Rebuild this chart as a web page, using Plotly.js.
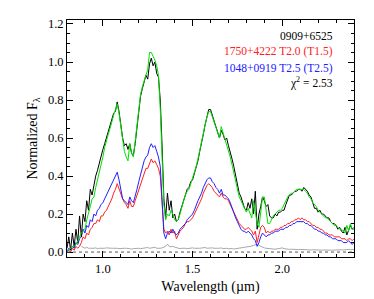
<!DOCTYPE html>
<html><head><meta charset="utf-8">
<script src="https://cdn.plot.ly/plotly-3.0.1.min.js"></script>
<style>html,body{margin:0;padding:0;background:#fff;}#chart{width:374px;height:299px;}</style>
</head><body><div id="chart"></div>
<script>
var wavelength = [0.80,0.81,0.82,0.83,0.84,0.85,0.86,0.87,0.88,0.89,0.90,0.91,0.92,0.93,0.94,0.95,0.96,0.97,0.98,0.99,
1.00,1.01,1.02,1.03,1.04,1.05,1.06,1.07,1.08,1.09,1.10,1.11,1.12,1.13,1.14,1.15,1.16,1.17,1.18,1.19,
1.20,1.21,1.22,1.23,1.24,1.25,1.26,1.27,1.28,1.29,1.30,1.31,1.32,1.33,1.34,1.35,1.36,1.37,1.38,1.39,
1.40,1.41,1.42,1.43,1.44,1.45,1.46,1.47,1.48,1.49,1.50,1.51,1.52,1.53,1.54,1.55,1.56,1.57,1.58,1.59,
1.60,1.61,1.62,1.63,1.64,1.65,1.66,1.67,1.68,1.69,1.70,1.71,1.72,1.73,1.74,1.75,1.76,1.77,1.78,1.79,
1.80,1.81,1.82,1.83,1.84,1.85,1.86,1.87,1.88,1.89,1.90,1.91,1.92,1.93,1.94,1.95,1.96,1.97,1.98,1.99,
2.00,2.01,2.02,2.03,2.04,2.05,2.06,2.07,2.08,2.09,2.10,2.11,2.12,2.13,2.14,2.15,2.16,2.17,2.18,2.19,
2.20,2.21,2.22,2.23,2.24,2.25,2.26,2.27,2.28,2.29,2.30,2.31,2.32,2.33,2.34,2.35,2.36,2.37,2.38,2.39,2.40];

var target0909 = [0.02,0.08,0.01,0.10,0.03,0.12,0.05,0.19,0.08,0.20,0.16,0.27,0.22,0.33,0.30,0.36,0.40,0.43,0.47,0.50,
0.54,0.57,0.60,0.64,0.67,0.70,0.73,0.74,0.79,0.74,0.67,0.60,0.56,0.57,0.54,0.57,0.52,0.51,0.57,0.66,
0.76,0.82,0.86,0.90,0.93,0.91,0.99,1.02,0.98,1.00,0.94,0.92,0.80,0.56,0.28,0.18,0.31,0.22,0.27,0.18,
0.20,0.16,0.17,0.21,0.24,0.28,0.31,0.33,0.34,0.37,0.38,0.41,0.44,0.48,0.53,0.57,0.62,0.67,0.72,0.75,
0.75,0.72,0.70,0.66,0.63,0.60,0.64,0.62,0.59,0.60,0.56,0.53,0.49,0.45,0.40,0.35,0.31,0.29,0.26,0.23,
0.22,0.26,0.23,0.28,0.20,0.32,0.12,0.20,0.24,0.29,0.27,0.24,0.25,0.19,0.18,0.18,0.20,0.19,0.21,0.21,
0.22,0.22,0.25,0.28,0.30,0.30,0.31,0.32,0.32,0.33,0.33,0.32,0.34,0.33,0.32,0.30,0.29,0.26,0.23,0.23,
0.21,0.22,0.20,0.20,0.19,0.18,0.18,0.16,0.15,0.15,0.14,0.12,0.13,0.11,0.10,0.13,0.09,0.12,0.14,0.12,0.13];

var fitComposite = [0.00,0.01,0.02,0.03,0.03,0.04,0.06,0.08,0.10,0.11,0.12,0.17,0.20,0.24,0.28,0.29,0.34,0.38,0.41,0.45,
0.50,0.55,0.59,0.62,0.65,0.69,0.72,0.75,0.78,0.73,0.66,0.58,0.53,0.50,0.48,0.57,0.52,0.50,0.58,0.68,
0.77,0.83,0.87,0.90,0.94,0.96,1.05,1.05,1.03,1.01,0.98,0.93,0.75,0.50,0.25,0.17,0.20,0.19,0.22,0.20,
0.17,0.16,0.17,0.20,0.24,0.27,0.30,0.32,0.33,0.36,0.38,0.41,0.45,0.49,0.54,0.58,0.62,0.67,0.71,0.74,
0.74,0.71,0.69,0.65,0.62,0.60,0.66,0.63,0.59,0.57,0.54,0.50,0.46,0.42,0.38,0.33,0.29,0.27,0.25,0.23,
0.21,0.23,0.20,0.18,0.27,0.22,0.15,0.13,0.22,0.29,0.29,0.22,0.15,0.15,0.17,0.19,0.20,0.21,0.22,0.22,
0.23,0.25,0.27,0.29,0.30,0.31,0.31,0.32,0.33,0.33,0.33,0.33,0.33,0.32,0.31,0.29,0.28,0.26,0.25,0.24,
0.22,0.21,0.20,0.19,0.18,0.18,0.17,0.16,0.15,0.14,0.14,0.13,0.12,0.12,0.11,0.10,0.14,0.11,0.15,0.12,0.12];

var std1750 = [0.00,0.01,0.00,0.02,0.01,0.03,0.02,0.03,0.05,0.08,0.07,0.10,0.09,0.12,0.13,0.15,0.15,0.17,0.16,0.19,
0.19,0.21,0.22,0.24,0.26,0.28,0.31,0.33,0.36,0.33,0.30,0.28,0.26,0.25,0.23,0.27,0.24,0.24,0.27,0.30,
0.33,0.36,0.39,0.42,0.44,0.44,0.47,0.49,0.47,0.48,0.46,0.44,0.40,0.25,0.12,0.10,0.11,0.09,0.12,0.10,
0.11,0.07,0.09,0.11,0.12,0.13,0.15,0.16,0.16,0.17,0.18,0.20,0.22,0.24,0.26,0.28,0.31,0.33,0.35,0.36,
0.35,0.34,0.32,0.31,0.30,0.29,0.31,0.29,0.28,0.28,0.27,0.25,0.23,0.21,0.19,0.17,0.15,0.14,0.13,0.12,
0.12,0.13,0.12,0.11,0.09,0.11,0.05,0.09,0.13,0.14,0.13,0.10,0.11,0.10,0.11,0.11,0.12,0.12,0.12,0.13,
0.13,0.14,0.14,0.15,0.15,0.16,0.16,0.17,0.17,0.18,0.17,0.18,0.17,0.17,0.16,0.16,0.15,0.14,0.14,0.13,
0.13,0.12,0.12,0.11,0.10,0.10,0.09,0.09,0.09,0.08,0.08,0.08,0.08,0.07,0.07,0.07,0.06,0.07,0.07,0.06,0.07];

var std1048 = [0.00,0.02,0.01,0.03,0.02,0.05,0.04,0.07,0.08,0.12,0.10,0.14,0.13,0.17,0.16,0.20,0.19,0.22,0.23,0.25,
0.26,0.28,0.30,0.32,0.34,0.36,0.38,0.40,0.42,0.38,0.32,0.28,0.27,0.26,0.25,0.29,0.27,0.26,0.29,0.33,
0.37,0.41,0.45,0.48,0.50,0.51,0.55,0.57,0.55,0.56,0.53,0.50,0.45,0.25,0.10,0.07,0.10,0.11,0.10,0.12,
0.10,0.09,0.10,0.12,0.13,0.14,0.15,0.17,0.18,0.19,0.20,0.22,0.25,0.27,0.29,0.31,0.34,0.36,0.38,0.39,
0.39,0.37,0.36,0.34,0.33,0.31,0.33,0.30,0.30,0.29,0.28,0.26,0.23,0.20,0.18,0.16,0.14,0.12,0.11,0.11,
0.10,0.11,0.10,0.09,0.07,0.06,0.03,0.05,0.08,0.10,0.09,0.08,0.09,0.09,0.10,0.10,0.11,0.11,0.11,0.12,
0.12,0.12,0.13,0.13,0.14,0.14,0.15,0.15,0.16,0.16,0.16,0.16,0.16,0.15,0.15,0.14,0.14,0.13,0.12,0.12,
0.11,0.11,0.10,0.10,0.09,0.09,0.08,0.08,0.07,0.07,0.07,0.06,0.06,0.06,0.05,0.05,0.05,0.06,0.05,0.04,0.05];

var noise0909 = [null,null,null,null,null,null,null,null,0.03,0.025,0.02,0.025,0.02,0.02,0.018,0.02,0.022,0.018,0.02,0.02,
0.018,0.02,0.022,0.02,0.018,0.02,0.02,0.022,0.02,0.018,0.02,0.018,0.02,0.02,0.018,0.015,0.016,0.018,0.02,0.018,
0.02,0.018,0.02,0.022,0.02,0.024,0.02,0.022,0.02,0.025,0.02,0.018,0.02,0.022,0.025,0.03,0.042,0.03,0.028,0.03,
0.026,0.022,0.02,0.018,0.02,0.022,0.02,0.018,0.02,0.02,0.022,0.02,0.018,0.02,0.02,0.022,0.02,0.024,0.02,0.022,
0.02,0.022,0.02,0.018,0.02,0.02,0.022,0.018,0.02,0.02,0.018,0.02,0.018,0.016,0.018,0.02,0.018,0.02,0.022,0.024,
0.026,0.028,0.03,0.032,0.035,0.04,0.042,0.035,0.03,0.025,0.022,0.02,0.018,0.018,0.016,0.016,0.015,0.016,0.018,0.02,
0.022,0.018,0.016,0.015,0.014,0.015,0.014,0.013,0.014,0.013,0.014,0.013,0.012,0.013,0.012,0.012,0.011,0.012,0.011,0.011,
0.012,0.011,0.01,0.011,0.01,0.01,0.011,0.01,0.01,0.011,0.01,0.01,0.011,0.012,0.011,0.013,0.012,0.014,0.013,0.015,0.014];

var legendLabels = ["0909+6525", "1750+4222 T2.0 (T1.5)", "1048+0919 T2.5 (T2.5)", "χ<sup>2</sup> = 2.53"];
var legendColors = ["#000000", "#ff2020", "#2020ff", "#000000"];

var lw = 1;
var traces = [
  {x: wavelength, y: noise0909, type: 'scatter', mode: 'lines', line: {color: '#a8a8a8', width: lw}, hoverinfo: 'skip'},
  {x: wavelength, y: std1750, type: 'scatter', mode: 'lines', line: {color: '#ff2020', width: lw}},
  {x: wavelength, y: std1048, type: 'scatter', mode: 'lines', line: {color: '#2020ff', width: lw}},
  {x: wavelength, y: target0909, type: 'scatter', mode: 'lines', line: {color: '#000000', width: lw}},
  {x: wavelength, y: fitComposite, type: 'scatter', mode: 'lines', line: {color: '#00e000', width: lw}}
];

var ann = [];
var annY = [0.932, 0.865, 0.797, 0.736];
for (var i = 0; i < legendLabels.length; i++) {
  ann.push({xref: 'paper', yref: 'paper', x: 0.935, y: annY[i], xanchor: 'right', yanchor: 'middle',
    text: legendLabels[i], showarrow: false, font: {family: 'Liberation Serif', size: 11.5, color: legendColors[i]}});
}

var layout = {
  width: 374, height: 299,
  margin: {l: 67, r: 20, t: 20, b: 42},
  paper_bgcolor: '#fff', plot_bgcolor: '#fff',
  showlegend: false,
  font: {family: 'Liberation Serif', size: 12, color: '#000'},
  xaxis: {
    range: [0.8, 2.4], dtick: 0.5, tick0: 0, tickformat: '.1f',
    ticks: 'inside', ticklen: 6, tickwidth: 1, tickcolor: '#000',
    minor: {dtick: 0.1, ticks: 'inside', ticklen: 3, tickcolor: '#000', showgrid: false},
    showline: true, linecolor: '#000', linewidth: 1, mirror: 'ticks',
    showgrid: false, zeroline: false,
    tickfont: {family: 'Liberation Serif', size: 12.5},
    title: {text: 'Wavelength (µm)', font: {family: 'Liberation Serif', size: 14}, standoff: 6}
  },
  yaxis: {
    range: [-0.026, 1.221], dtick: 0.2, tick0: 0, tickformat: '.1f',
    ticks: 'inside', ticklen: 6, tickwidth: 1, tickcolor: '#000',
    minor: {dtick: 0.05, ticks: 'inside', ticklen: 3, tickcolor: '#000', showgrid: false},
    showline: true, linecolor: '#000', linewidth: 1, mirror: 'ticks',
    showgrid: false, zeroline: false,
    tickfont: {family: 'Liberation Serif', size: 12.5},
    title: {text: 'Normalized F<sub>λ</sub>', font: {family: 'Liberation Serif', size: 14}, standoff: 6}
  },
  shapes: [{type: 'line', xref: 'paper', x0: 0, x1: 1, yref: 'y', y0: 0, y1: 0,
    line: {color: '#555', width: 1, dash: 'dot'}}],
  annotations: ann
};

Plotly.newPlot('chart', traces, layout, {staticPlot: true, displayModeBar: false});
</script></body></html>
